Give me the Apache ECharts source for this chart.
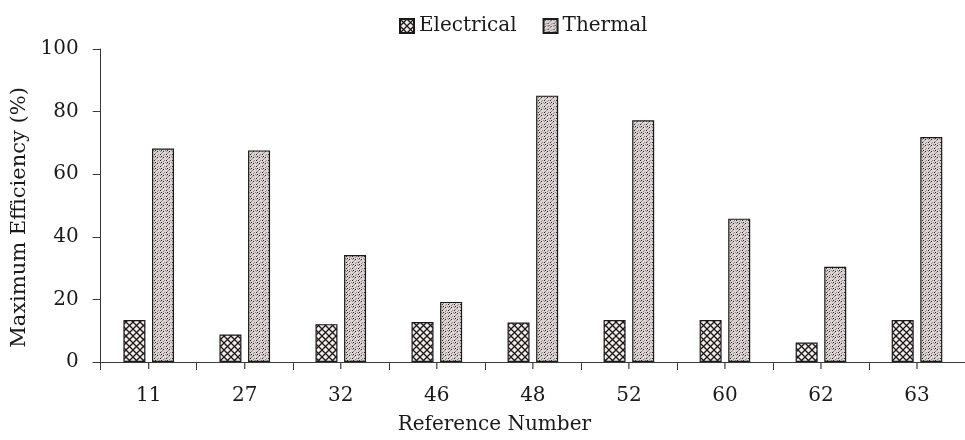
<!DOCTYPE html>
<html>
<head>
<meta charset="utf-8">
<script src="https://cdn.jsdelivr.net/npm/echarts@6/dist/echarts.min.js"></script>
<style>html,body{margin:0;padding:0;background:#fff}#c{width:965px;height:440px}</style>
</head>
<body>
<div id="c"></div>
<script>
const categories = ['11', '27', '32', '46', '48', '52', '60', '62', '63'];
const electrical = [13.4, 8.8, 12.1, 12.8, 12.6, 13.4, 13.4, 6.2, 13.4];
const thermal = [68.2, 67.6, 34.2, 19.2, 85.1, 77.2, 45.8, 30.4, 71.9];
const yTicks = [0, 20, 40, 60, 80, 100];

function makeTile(size, draw) {
  const c = document.createElement('canvas');
  c.width = size; c.height = size;
  const g = c.getContext('2d');
  draw(g, size);
  return c;
}
const elecTile = makeTile(7, function (g, s) {
  g.fillStyle = '#f3ebe8'; g.fillRect(0, 0, s, s);
  g.strokeStyle = '#1a1a1a'; g.lineWidth = 1.3;
  g.beginPath();
  g.moveTo(-1, -1); g.lineTo(s + 1, s + 1);
  g.moveTo(-1, s + 1); g.lineTo(s + 1, -1);
  g.stroke();
});
const thermTile = makeTile(6, function (g, s) {
  g.fillStyle = '#ddd5d3'; g.fillRect(0, 0, s, s);
  g.fillStyle = '#8f8787';
  [[0,2],[3,0],[2,4],[5,3],[4,1],[1,5]].forEach(p => g.fillRect(p[0], p[1], 1, 1));
  g.fillStyle = '#222222';
  [[1,1],[4,4],[5,0]].forEach(p => g.fillRect(p[0], p[1], 1, 1));
});

const font = 'DejaVu Serif';
const axisColor = '#3a3a3a';
const chart = echarts.init(document.getElementById('c'), null, {renderer: 'canvas'});
chart.setOption({
  animation: false,
  backgroundColor: '#ffffff',
  textStyle: {fontFamily: font, color: '#1a1a1a'},
  legend: {
    left: 394, top: 11,
    icon: 'rect',
    itemWidth: 14, itemHeight: 14, itemGap: 26,
    textStyle: {fontFamily: font, fontSize: 20, color: '#1a1a1a'},
    data: ['Electrical', 'Thermal']
  },
  grid: {left: 100.7, right: -7.7, top: 49, bottom: 78, containLabel: false},
  xAxis: {
    type: 'category', data: categories, position: 'bottom',
    name: 'Reference Number', nameLocation: 'middle', nameGap: 53,
    nameTextStyle: {fontFamily: font, fontSize: 20, color: '#1a1a1a', padding: [0, 77, 0, 0]},
    axisLine: {lineStyle: {color: axisColor, width: 1}},
    axisTick: {show: true, inside: false, length: 8, alignWithLabel: false, lineStyle: {color: axisColor}},
    axisLabel: {fontFamily: font, fontSize: 20, color: '#1a1a1a', margin: 24},
    splitLine: {show: false}
  },
  yAxis: {
    type: 'value', min: yTicks[0], max: yTicks[yTicks.length - 1], interval: 20,
    name: 'Maximum Efficiency (%)', nameLocation: 'middle', nameGap: 60,
    nameTextStyle: {fontFamily: font, fontSize: 21, color: '#1a1a1a', padding: [0, 24, 0, 0]},
    axisLine: {show: true, lineStyle: {color: axisColor, width: 1}},
    axisTick: {show: true, inside: false, length: 8, lineStyle: {color: axisColor}},
    axisLabel: {fontFamily: font, fontSize: 20, color: '#1a1a1a', margin: 22},
    splitLine: {show: false}
  },
  series: [{
    name: 'Electrical', type: 'bar', data: electrical,
    barWidth: 22, barGap: '30%',
    itemStyle: {color: {image: elecTile, repeat: 'repeat'}, borderColor: '#1a1a1a', borderWidth: 1.2}
  }, {
    name: 'Thermal', type: 'bar', data: thermal,
    barWidth: 22,
    itemStyle: {color: {image: thermTile, repeat: 'repeat'}, borderColor: '#1a1a1a', borderWidth: 1.2}
  }, {
    name: 'centerTicks', type: 'custom', silent: true, clip: false, z: 10, zlevel: 0,
    data: categories.map(function (c) { return [c, 0]; }),
    encode: {x: 0, y: 1},
    renderItem: function (params, api) {
      const p = api.coord([api.value(0), api.value(1)]);
      return {
        type: 'rect',
        z2: 100,
        shape: {x: p[0] - 0.6, y: p[1], width: 1.2, height: 7},
        style: {fill: '#3a3a3a'}
      };
    }
  }]
});
</script>
</body>
</html>
